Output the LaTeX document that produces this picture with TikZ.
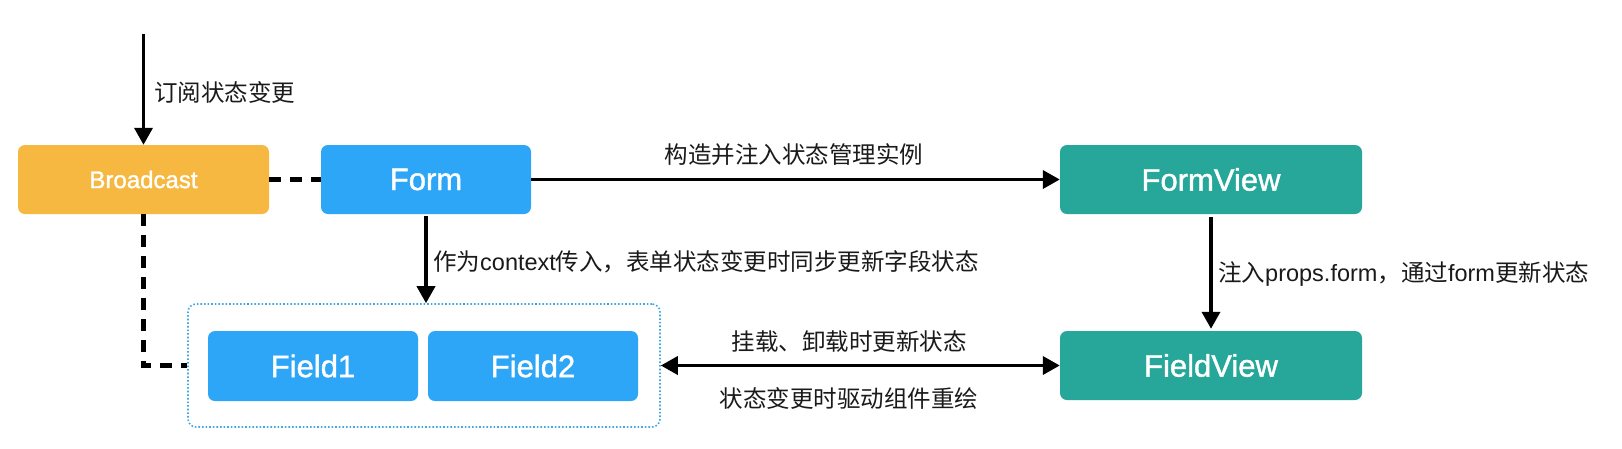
\documentclass[tikz,border=0pt]{standalone}
\usepackage{fontspec}
\setmainfont{Liberation Sans}
\newfontfamily\cjk{Noto Sans CJK SC}
\newfontfamily\latf{Liberation Sans}
\newfontfamily\boxfont[FakeBold=1.3]{Liberation Sans}
\usetikzlibrary{arrows.meta,calc}
\definecolor{orangebox}{HTML}{F6B840}
\definecolor{bluebox}{HTML}{2DA6F7}
\definecolor{tealbox}{HTML}{27A79A}
\definecolor{dotblue}{HTML}{3FA9E0}
\definecolor{labelink}{HTML}{1A1A1A}
\begin{document}
\begin{tikzpicture}[x=1pt,y=-1pt,
  box/.style={draw=none,rounded corners=7pt,inner sep=0pt,text=white,
    minimum height=69pt,font=\boxfont\fontsize{31}{36}\selectfont},
  conn/.style={line width=3.6pt,-{Triangle[width=18pt,length=17pt]}},
  biconn/.style={line width=3.6pt,{Triangle[width=18pt,length=17pt]}-{Triangle[width=18pt,length=17pt]}},
  dashconn/.style={line width=5pt,dash pattern=on 12pt off 9pt},
  lbl/.style={inner sep=0pt,text=labelink,font=\cjk\fontsize{23.5}{28}\selectfont}
]
\useasboundingbox (0,0) rectangle (1622,448);
\fill[white] (0,0) rectangle (1622,448);

% nodes
\node[box,fill=orangebox,minimum width=251pt,font=\boxfont\fontsize{24}{28}\selectfont] (bc) at (143.5,179.5) {Broadcast};
\node[box,fill=bluebox,minimum width=210pt] (form) at (426,179.5) {Form};
\node[box,fill=tealbox,minimum width=302pt] (fv) at (1211,179.5) {FormView};
\node[box,fill=tealbox,minimum width=302pt] (fdv) at (1211,365.5) {FieldView};
\node[draw=dotblue,line width=1.6pt,dotted,rounded corners=8pt,minimum width=472pt,minimum height=123pt,inner sep=0pt] (cont) at (424,365.5) {};
\node[box,fill=bluebox,minimum width=210pt,minimum height=70pt] (f1) at (313,366) {Field1};
\node[box,fill=bluebox,minimum width=210pt,minimum height=70pt] (f2) at (533,366) {Field2};

\coordinate (top) at (143.5,34);

% connectors
\draw[conn] (top) -- (bc.north);
\draw[dashconn] (bc.east) -- (form.west);
\draw[conn] (form.east) -- (fv.west);
\draw[conn,shorten <=2pt] (form.south) -- (form.south |- cont.north);
\draw[conn,shorten <=3pt,shorten >=2pt] (fv.south) -- (fdv.north);
\draw[biconn] (cont.east) -- (fdv.west);
\draw[dashconn] (bc.south) -- (bc.south |- cont.west) -- (cont.west);

% labels
\node[lbl,anchor=west] (l1) at (154,92) {订阅状态变更};
\node[lbl] (l2) at (794,155) {构造并注入状态管理实例};
\node[lbl,anchor=west] (l3) at (433,262) {作为{\latf context}传入，表单状态变更时同步更新字段状态};
\node[lbl,anchor=west] (l4) at (1218,274) {注入{\latf props.form}，通过{\latf form}更新状态};
\node[lbl] (l5) at (849,342) {挂载、卸载时更新状态};
\node[lbl] (l6) at (849,398) {状态变更时驱动组件重绘};
\end{tikzpicture}
\end{document}
